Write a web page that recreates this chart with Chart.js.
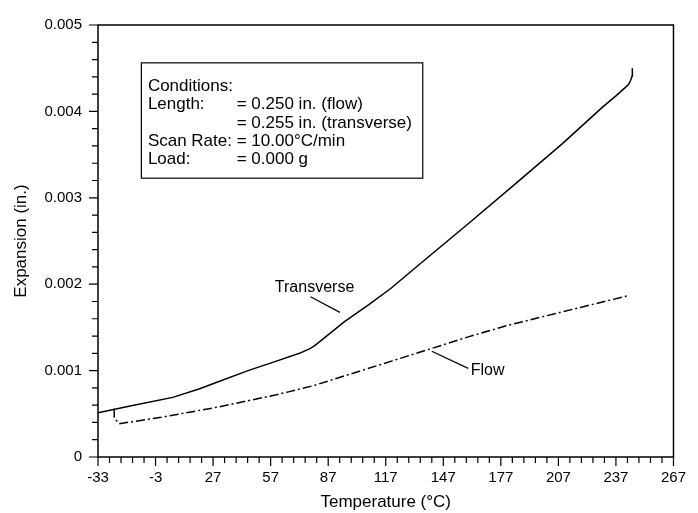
<!DOCTYPE html>
<html>
<head>
<meta charset="utf-8">
<script src="https://cdn.jsdelivr.net/npm/chart.js@4"></script>
<style>
  html, body { margin: 0; padding: 0; background: #fff; }
  #wrap { width: 698px; height: 513px; }
</style>
</head>
<body>
<div id="wrap"><canvas id="myChart" width="698" height="513"></canvas></div>
<script>
// values
var transverseTemp = [-33, -15, 6, 20, 30, 45.6, 60, 72, 77.5, 80, 95.5, 108, 119.6, 135.1, 160, 185, 209.1, 230, 237, 241.8, 243.5, 244.7, 245.4, 245.6, 245.5];
var transverseExp  = [0.000511, 0.000595, 0.00069, 0.00079, 0.000873, 0.001003, 0.00111, 0.0012, 0.001255, 0.00129, 0.001567, 0.00176, 0.00195, 0.00224, 0.0027, 0.00317, 0.003627, 0.00405, 0.00418, 0.004275, 0.00431, 0.00436, 0.00441, 0.00447, 0.0045];

var flowTemp = [-24.6, -24.5, -22, 0, 30, 60, 80, 100, 120, 140, 160, 180, 200, 220, 244];
var flowExp  = [0.00056, 0.00045, 0.000385, 0.00046, 0.00058, 0.00072, 0.00083, 0.00097, 0.00111, 0.00125, 0.00139, 0.00152, 0.00163, 0.00174, 0.00187];

var xTicks = [-33, -3, 27, 57, 87, 117, 147, 177, 207, 237, 267];
var yTicks = [0, 0.001, 0.002, 0.003, 0.004, 0.005];
var xMinorStep = 6;
var yMinorStep = 0.0002;

var condLabels = ["Conditions:", "Length:", "", "Scan Rate:", "Load:"];
var condValues = ["", "= 0.250 in. (flow)", "= 0.255 in. (transverse)", "= 10.00\u00B0C/min", "= 0.000 g"];

function toPoints(xs, ys) {
  return xs.map(function (x, i) { return { x: x, y: ys[i] }; });
}

var FONT = "'Liberation Sans', Arial, Helvetica, sans-serif";

// frame, tick marks, conditions box and curve labels
var decorations = {
  id: 'decorations',
  afterDraw: function (chart) {
    var ctx = chart.ctx, a = chart.chartArea;
    var xs = chart.scales.x, ys = chart.scales.y;
    ctx.save();
    ctx.strokeStyle = '#000';
    ctx.lineWidth = 1.5;
    ctx.strokeRect(a.left, a.top, a.right - a.left, a.bottom - a.top);

    ctx.lineWidth = 1.2;
    ctx.beginPath();
    for (var t = xTicks[0]; t <= xTicks[xTicks.length - 1] + 0.001; t += xMinorStep) {
      var px = xs.getPixelForValue(t);
      var major = xTicks.some(function (v) { return Math.abs(v - t) < 0.01; });
      ctx.moveTo(px, a.bottom);
      ctx.lineTo(px, a.bottom + (major ? 9 : 6));
    }
    for (var k = 0; k <= 25; k++) {
      var py = ys.getPixelForValue(k * yMinorStep);
      ctx.moveTo(a.left, py);
      ctx.lineTo(a.left - (k % 5 === 0 ? 9 : 6), py);
    }
    ctx.stroke();

    // conditions box
    var bx0 = xs.getPixelForValue(-10.4), bx1 = xs.getPixelForValue(136.3);
    var by0 = ys.getPixelForValue(0.004562), by1 = ys.getPixelForValue(0.003227);
    ctx.lineWidth = 1.2;
    ctx.strokeRect(bx0, by0, bx1 - bx0, by1 - by0);
    ctx.fillStyle = '#000';
    ctx.font = '17px ' + FONT;
    ctx.textBaseline = 'middle';
    var labX = xs.getPixelForValue(-7.0);
    var valX = labX + ctx.measureText('Scan Rate: ').width;
    var lineY = ys.getPixelForValue(0.00429);
    for (var i = 0; i < condLabels.length; i++) {
      var yy = lineY + i * 18.3;
      if (condLabels[i]) ctx.fillText(condLabels[i], labX, yy);
      if (condValues[i]) ctx.fillText(condValues[i], valX, yy);
    }

    // curve labels with leader lines
    ctx.font = '16px ' + FONT;
    ctx.textAlign = 'center';
    ctx.fillText('Transverse', xs.getPixelForValue(79.9), ys.getPixelForValue(0.001957));
    ctx.textAlign = 'left';
    ctx.fillText('Flow', xs.getPixelForValue(161.3), ys.getPixelForValue(0.000995));
    ctx.lineWidth = 1.2;
    ctx.beginPath();
    ctx.moveTo(xs.getPixelForValue(77.8), ys.getPixelForValue(0.001854));
    ctx.lineTo(xs.getPixelForValue(93.1), ys.getPixelForValue(0.001674));
    ctx.moveTo(xs.getPixelForValue(141), ys.getPixelForValue(0.001224));
    ctx.lineTo(xs.getPixelForValue(160), ys.getPixelForValue(0.001026));
    ctx.stroke();
    ctx.restore();
  }
};

new Chart(document.getElementById('myChart'), {
  type: 'line',
  data: {
    datasets: [{
      label: 'Transverse',
      data: toPoints(transverseTemp, transverseExp),
      borderColor: '#000',
      borderWidth: 1.5,
      pointRadius: 0,
      tension: 0,
      fill: false
    }, {
      label: 'Flow',
      data: toPoints(flowTemp, flowExp),
      borderColor: '#000',
      borderWidth: 1.5,
      borderDash: [9, 3, 2, 3],
      pointRadius: 0,
      tension: 0,
      fill: false
    }]
  },
  options: {
    responsive: false,
    animation: false,
    layout: { padding: { top: 20, right: 19, left: 0, bottom: 0 } },
    plugins: { legend: { display: false }, tooltip: { enabled: false } },
    scales: {
      x: {
        type: 'linear',
        min: -33,
        max: 267,
        grid: { display: false, drawTicks: false },
        border: { display: false },
        afterBuildTicks: function (s) { s.ticks = xTicks.map(function (v) { return { value: v }; }); },
        afterFit: function (s) { s.height = 56; },
        ticks: {
          padding: 12,
          maxRotation: 0,
          autoSkip: false,
          color: '#000',
          font: { family: FONT, size: 15 }
        },
        title: {
          display: true,
          text: 'Temperature (\u00B0C)',
          color: '#000',
          font: { family: FONT, size: 17 },
          padding: { top: 0, bottom: 0 }
        }
      },
      y: {
        min: 0,
        max: 0.005,
        grid: { display: false, drawTicks: false },
        border: { display: false },
        afterBuildTicks: function (s) { s.ticks = yTicks.map(function (v) { return { value: v }; }); },
        afterFit: function (s) { s.width = 98; },
        ticks: {
          padding: 16,
          autoSkip: false,
          color: '#000',
          font: { family: FONT, size: 15 },
          callback: function (v) { return v === 0 ? '0' : Number(v).toFixed(3); }
        },
        title: {
          display: true,
          text: 'Expansion (in.)',
          color: '#000',
          font: { family: FONT, size: 17 },
          padding: { top: 11, bottom: 0 }
        }
      }
    }
  },
  plugins: [decorations]
});
</script>
</body>
</html>
